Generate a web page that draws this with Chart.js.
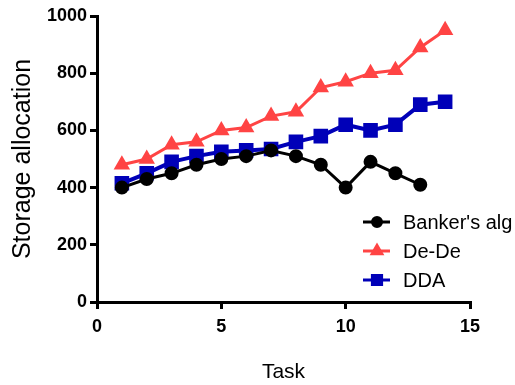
<!DOCTYPE html>
<html>
<head>
<meta charset="utf-8">
<script src="https://cdn.jsdelivr.net/npm/chart.js@4"></script>
<style>
    html, body { margin: 0; padding: 0; background: #fff; }
    #wrap { width: 515px; height: 385px; }
</style>
</head>
<body>
<div id="wrap"><canvas id="allocChart" width="515" height="385"></canvas></div>
<script>
const tasks = [1, 2, 3, 4, 5, 6, 7, 8, 9, 10, 11, 12, 13, 14];
const bankers = [400, 430, 450, 480, 500, 510, 530, 510, 480, 400, 490, 450, 410];
const deDe = [480, 500, 550, 560, 600, 610, 650, 665, 750, 770, 800, 810, 890, 950];
const dda = [415, 450, 490, 510, 525, 530, 535, 560, 580, 620, 600, 620, 690, 700];
const xTicks = [0, 5, 10, 15];
const yTicks = [0, 200, 400, 600, 800, 1000];

const toPoints = (vals) => vals.map((v, i) => ({ x: tasks[i], y: v }));

// legend drawn inside the plot, lower right
const insideLegend = {
    id: 'insideLegend',
    afterDraw(chart) {
        const ctx = chart.ctx;
        const rows = [222, 251, 280];
        ctx.save();
        chart.data.datasets.forEach((ds, i) => {
            const y = rows[i];
            ctx.strokeStyle = ds.borderColor;
            ctx.lineWidth = 3;
            ctx.beginPath();
            ctx.moveTo(363, y);
            ctx.lineTo(390, y);
            ctx.stroke();
            ctx.fillStyle = ds.pointBackgroundColor;
            Chart.helpers.drawPoint(ctx, {
                pointStyle: ds.pointStyle,
                radius: ds.pointRadius - 1,
                borderWidth: 1
            }, 377, y);
            ctx.fillStyle = '#000';
            ctx.font = '20px "Liberation Sans", Arial, sans-serif';
            ctx.textBaseline = 'middle';
            ctx.textAlign = 'left';
            ctx.fillText(ds.label, 403, y + 1);
        });
        ctx.restore();
    }
};

const tickFont = { family: '"Liberation Sans", Arial, sans-serif', size: 18, weight: 'bold' };

const ctx = document.getElementById('allocChart').getContext('2d');
new Chart(ctx, {
    type: 'line',
    data: {
        datasets: [
            {
                label: "Banker's alg",
                data: toPoints(bankers),
                borderColor: '#000000',
                backgroundColor: '#000000',
                pointBackgroundColor: '#000000',
                pointStyle: 'circle',
                pointRadius: 5.5,
                borderWidth: 3
            },
            {
                label: 'De-De',
                data: toPoints(deDe),
                borderColor: '#ff4444',
                backgroundColor: '#ff4444',
                pointBackgroundColor: '#ff4444',
                pointStyle: 'triangle',
                pointRadius: 6.5,
                borderWidth: 3
            },
            {
                label: 'DDA',
                data: toPoints(dda),
                borderColor: '#0000b8',
                backgroundColor: '#0000b8',
                pointBackgroundColor: '#0000b8',
                pointStyle: 'rect',
                pointRadius: 7.5,
                borderWidth: 4
            }
        ]
    },
    options: {
        responsive: false,
        animation: false,
        layout: { padding: { top: 16, right: 45, left: 0, bottom: 0 } },
        plugins: {
            legend: { display: false },
            tooltip: { enabled: false }
        },
        scales: {
            x: {
                type: 'linear',
                min: 0,
                max: 15,
                afterFit: (scale) => { scale.height = 83; },
                afterBuildTicks: (scale) => { scale.ticks = xTicks.map(v => ({ value: v })); },
                border: { color: '#000', width: 3 },
                grid: { drawOnChartArea: false, color: '#000', lineWidth: 3, tickLength: 7 },
                ticks: {
                    color: '#000',
                    padding: 7,
                    font: tickFont,
                    callback: (v) => String(v)
                },
                title: {
                    display: true,
                    text: 'Task',
                    color: '#000',
                    padding: { top: 0, bottom: 0 },
                    font: { family: '"Liberation Sans", Arial, sans-serif', size: 21 }
                }
            },
            y: {
                min: 0,
                max: 1000,
                afterFit: (scale) => { scale.width = 97; },
                afterBuildTicks: (scale) => { scale.ticks = yTicks.map(v => ({ value: v })); },
                border: { color: '#000', width: 3 },
                grid: { drawOnChartArea: false, color: '#000', lineWidth: 3, tickLength: 7 },
                ticks: {
                    color: '#000',
                    padding: 3,
                    font: tickFont,
                    callback: (v) => String(v)
                },
                title: {
                    display: true,
                    text: 'Storage allocation',
                    color: '#000',
                    padding: { top: 8, bottom: 0 },
                    font: { family: '"Liberation Sans", Arial, sans-serif', size: 25 }
                }
            }
        }
    },
    plugins: [insideLegend]
});
</script>
</body>
</html>
